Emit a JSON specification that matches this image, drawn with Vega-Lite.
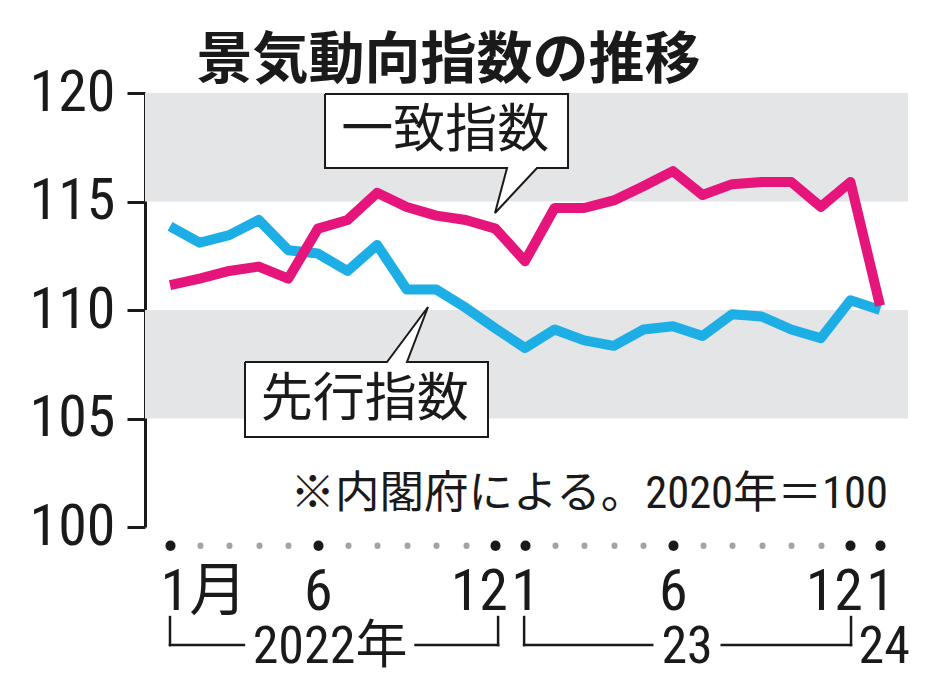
{
  "$schema": "https://vega.github.io/schema/vega-lite/v6.json",
  "width": 763,
  "height": 434,
  "autosize": {"type": "none"},
  "padding": {"left": 145, "top": 93, "right": 26, "bottom": 166},
  "background": "white",
  "config": {"view": {"stroke": null}},
  "title": {
    "text": "景気動向指数の推移",
    "font": "Noto Sans CJK JP",
    "fontSize": 56,
    "fontWeight": "bold",
    "color": "#1a1a1a",
    "anchor": "middle",
    "frame": "group",
    "dx": -78,
    "baseline": "alphabetic",
    "offset": -70
  },
  "datasets": {
    "series": [
      {"i": 0, "month": "2022-01", "name": "一致指数", "value": 111.15},
      {"i": 1, "month": "2022-02", "name": "一致指数", "value": 111.45},
      {"i": 2, "month": "2022-03", "name": "一致指数", "value": 111.8},
      {"i": 3, "month": "2022-04", "name": "一致指数", "value": 112.0},
      {"i": 4, "month": "2022-05", "name": "一致指数", "value": 111.45},
      {"i": 5, "month": "2022-06", "name": "一致指数", "value": 113.75},
      {"i": 6, "month": "2022-07", "name": "一致指数", "value": 114.15},
      {"i": 7, "month": "2022-08", "name": "一致指数", "value": 115.4},
      {"i": 8, "month": "2022-09", "name": "一致指数", "value": 114.75},
      {"i": 9, "month": "2022-10", "name": "一致指数", "value": 114.35},
      {"i": 10, "month": "2022-11", "name": "一致指数", "value": 114.15},
      {"i": 11, "month": "2022-12", "name": "一致指数", "value": 113.75},
      {"i": 12, "month": "2023-01", "name": "一致指数", "value": 112.25},
      {"i": 13, "month": "2023-02", "name": "一致指数", "value": 114.7},
      {"i": 14, "month": "2023-03", "name": "一致指数", "value": 114.7},
      {"i": 15, "month": "2023-04", "name": "一致指数", "value": 115.05},
      {"i": 16, "month": "2023-05", "name": "一致指数", "value": 115.7},
      {"i": 17, "month": "2023-06", "name": "一致指数", "value": 116.4},
      {"i": 18, "month": "2023-07", "name": "一致指数", "value": 115.3},
      {"i": 19, "month": "2023-08", "name": "一致指数", "value": 115.8},
      {"i": 20, "month": "2023-09", "name": "一致指数", "value": 115.9},
      {"i": 21, "month": "2023-10", "name": "一致指数", "value": 115.9},
      {"i": 22, "month": "2023-11", "name": "一致指数", "value": 114.75},
      {"i": 23, "month": "2023-12", "name": "一致指数", "value": 115.9},
      {"i": 24, "month": "2024-01", "name": "一致指数", "value": 110.2},
      {"i": 0, "month": "2022-01", "name": "先行指数", "value": 113.85},
      {"i": 1, "month": "2022-02", "name": "先行指数", "value": 113.1},
      {"i": 2, "month": "2022-03", "name": "先行指数", "value": 113.45},
      {"i": 3, "month": "2022-04", "name": "先行指数", "value": 114.15},
      {"i": 4, "month": "2022-05", "name": "先行指数", "value": 112.75},
      {"i": 5, "month": "2022-06", "name": "先行指数", "value": 112.6},
      {"i": 6, "month": "2022-07", "name": "先行指数", "value": 111.8},
      {"i": 7, "month": "2022-08", "name": "先行指数", "value": 113.0},
      {"i": 8, "month": "2022-09", "name": "先行指数", "value": 110.95},
      {"i": 9, "month": "2022-10", "name": "先行指数", "value": 110.95},
      {"i": 10, "month": "2022-11", "name": "先行指数", "value": 110.1},
      {"i": 11, "month": "2022-12", "name": "先行指数", "value": 109.15},
      {"i": 12, "month": "2023-01", "name": "先行指数", "value": 108.25},
      {"i": 13, "month": "2023-02", "name": "先行指数", "value": 109.1},
      {"i": 14, "month": "2023-03", "name": "先行指数", "value": 108.6},
      {"i": 15, "month": "2023-04", "name": "先行指数", "value": 108.35},
      {"i": 16, "month": "2023-05", "name": "先行指数", "value": 109.1},
      {"i": 17, "month": "2023-06", "name": "先行指数", "value": 109.25},
      {"i": 18, "month": "2023-07", "name": "先行指数", "value": 108.8},
      {"i": 19, "month": "2023-08", "name": "先行指数", "value": 109.8},
      {"i": 20, "month": "2023-09", "name": "先行指数", "value": 109.7},
      {"i": 21, "month": "2023-10", "name": "先行指数", "value": 109.1},
      {"i": 22, "month": "2023-11", "name": "先行指数", "value": 108.7},
      {"i": 23, "month": "2023-12", "name": "先行指数", "value": 110.45},
      {"i": 24, "month": "2024-01", "name": "先行指数", "value": 110.0}
    ],
    "bands": [
      {"lo": 115, "hi": 120},
      {"lo": 105, "hi": 110}
    ],
    "callouts": [
      {"shape": "一致指数", "ord": 0, "i": 5.24, "v": 119.954},
      {"shape": "一致指数", "ord": 1, "i": 13.454, "v": 119.954},
      {"shape": "一致指数", "ord": 2, "i": 13.454, "v": 116.544},
      {"shape": "一致指数", "ord": 3, "i": 12.406, "v": 116.544},
      {"shape": "一致指数", "ord": 4, "i": 10.986, "v": 114.47},
      {"shape": "一致指数", "ord": 5, "i": 11.392, "v": 116.544},
      {"shape": "一致指数", "ord": 6, "i": 5.24, "v": 116.544},
      {"shape": "一致指数", "ord": 7, "i": 5.24, "v": 119.954},
      {"shape": "先行指数", "ord": 0, "i": 2.535, "v": 107.604},
      {"shape": "先行指数", "ord": 1, "i": 7.335, "v": 107.604},
      {"shape": "先行指数", "ord": 2, "i": 8.721, "v": 110.138},
      {"shape": "先行指数", "ord": 3, "i": 8.011, "v": 107.604},
      {"shape": "先行指数", "ord": 4, "i": 10.749, "v": 107.604},
      {"shape": "先行指数", "ord": 5, "i": 10.749, "v": 104.147},
      {"shape": "先行指数", "ord": 6, "i": 2.535, "v": 104.147},
      {"shape": "先行指数", "ord": 7, "i": 2.535, "v": 107.604}
    ],
    "calloutText": [
      {"label": "一致指数", "i": 9.3, "v": 118.25},
      {"label": "先行指数", "i": 6.58, "v": 105.85}
    ],
    "note": [
      {"label": "※内閣府による。2020年＝100", "i": 24.27, "v": 101.47}
    ],
    "brackets": [
      {"i1": 0, "i2": 0, "v1": 95.85, "v2": 94.56},
      {"i1": 0, "i2": 2.5, "v1": 94.56, "v2": 94.56},
      {"i1": 8.3, "i2": 11.09, "v1": 94.56, "v2": 94.56},
      {"i1": 11.09, "i2": 11.09, "v1": 95.85, "v2": 94.56},
      {"i1": 11.97, "i2": 11.97, "v1": 95.85, "v2": 94.56},
      {"i1": 11.97, "i2": 16.3, "v1": 94.56, "v2": 94.56},
      {"i1": 18.65, "i2": 23.02, "v1": 94.56, "v2": 94.56},
      {"i1": 23.02, "i2": 23.02, "v1": 95.85, "v2": 94.56}
    ],
    "years": [
      {"label": "2022年", "i": 5.41, "v": 93.73},
      {"label": "23", "i": 17.48, "v": 93.73},
      {"label": "24", "i": 24.14, "v": 93.73}
    ]
  },
  "layer": [
    {
      "data": {"name": "bands"},
      "mark": {"type": "rect", "color": "#e4e5e7"},
      "encoding": {
        "y": {
          "field": "lo", "type": "quantitative",
          "scale": {"domain": [100, 120], "nice": false, "zero": false},
          "axis": {
            "values": [100, 105, 110, 115, 120],
            "title": null, "grid": false,
            "domain": true, "domainColor": "#1a1a1a", "domainWidth": 3,
            "ticks": true, "tickColor": "#1a1a1a", "tickWidth": 3, "tickSize": 18,
            "labelFont": "Roboto Condensed, Roboto, sans-serif", "labelFontSize": 58,
            "labelColor": "#1a1a1a", "labelPadding": 12,
            "labelFlush": false, "labelBound": false, "labelOverlap": false
          }
        },
        "y2": {"field": "hi"}
      }
    },
    {
      "data": {"name": "series"},
      "transform": [{"filter": "datum.name == '先行指数'"}],
      "mark": {"type": "line", "strokeWidth": 10, "strokeJoin": "round", "color": "#1eaee6"},
      "encoding": {
        "x": {
          "field": "i", "type": "quantitative",
          "scale": {"domain": [-0.845, 24.946], "nice": false, "zero": false},
          "axis": {
            "values": [0, 1, 2, 3, 4, 5, 6, 7, 8, 9, 10, 11, 12, 13, 14, 15, 16, 17, 18, 19, 20, 21, 22, 23, 24],
            "tickCount": 40,
            "title": null, "grid": false, "domain": false, "offset": 18,
            "ticks": true, "tickSize": 0.5, "tickCap": "round",
            "tickWidth": {"condition": {"test": "indexof([0,5,11,12,17,23,24], datum.value) >= 0", "value": 10}, "value": 6},
            "tickColor": {"condition": {"test": "indexof([0,5,11,12,17,23,24], datum.value) >= 0", "value": "#1a1a1a"}, "value": "#a3a3a3"},
            "labelExpr": "datum.value == 0 ? '1月' : (datum.value == 5 || datum.value == 17) ? '6' : (datum.value == 11 || datum.value == 23) ? '12' : (datum.value == 12 || datum.value == 24) ? '1' : ''",
            "labelFont": "Roboto Condensed, Roboto, Noto Sans CJK JP, sans-serif",
            "labelFontSize": 58, "labelColor": "#1a1a1a",
            "labelBaseline": "alphabetic", "labelPadding": 64,
            "labelOverlap": false, "labelFlush": false, "labelBound": false,
            "labelAlign": {"condition": [{"test": "datum.value == 0", "value": "left"}, {"test": "datum.value == 11 || datum.value == 23", "value": "right"}], "value": "center"},
            "labelOffset": {"condition": [{"test": "datum.value == 0", "value": -10}, {"test": "datum.value == 11 || datum.value == 23", "value": 12}], "value": 0}
          }
        },
        "y": {"field": "value", "type": "quantitative"}
      }
    },
    {
      "data": {"name": "series"},
      "transform": [{"filter": "datum.name == '一致指数'"}],
      "mark": {"type": "line", "strokeWidth": 10, "strokeJoin": "round", "color": "#e5157c"},
      "encoding": {
        "x": {"field": "i", "type": "quantitative"},
        "y": {"field": "value", "type": "quantitative"}
      }
    },
    {
      "data": {"name": "callouts"},
      "mark": {"type": "line", "fill": "white", "stroke": "#1a1a1a", "strokeWidth": 2, "strokeJoin": "miter"},
      "encoding": {
        "x": {"field": "i", "type": "quantitative"},
        "y": {"field": "v", "type": "quantitative"},
        "detail": {"field": "shape"},
        "order": {"field": "ord"}
      }
    },
    {
      "data": {"name": "calloutText"},
      "mark": {"type": "text", "font": "Noto Sans CJK JP", "fontSize": 52, "color": "#1a1a1a", "align": "center", "baseline": "middle"},
      "encoding": {
        "x": {"field": "i", "type": "quantitative"},
        "y": {"field": "v", "type": "quantitative"},
        "text": {"field": "label"}
      }
    },
    {
      "data": {"name": "note"},
      "mark": {"type": "text", "font": "Roboto Condensed, Noto Sans CJK JP", "fontSize": 44.5, "color": "#1a1a1a", "align": "right", "baseline": "middle"},
      "encoding": {
        "x": {"field": "i", "type": "quantitative"},
        "y": {"field": "v", "type": "quantitative"},
        "text": {"field": "label"}
      }
    },
    {
      "data": {"name": "brackets"},
      "mark": {"type": "rule", "color": "#1a1a1a", "strokeWidth": 2.5, "strokeCap": "square"},
      "encoding": {
        "x": {"field": "i1", "type": "quantitative"},
        "x2": {"field": "i2"},
        "y": {"field": "v1", "type": "quantitative"},
        "y2": {"field": "v2"}
      }
    },
    {
      "data": {"name": "years"},
      "mark": {"type": "text", "font": "Roboto Condensed, Roboto, Noto Sans CJK JP, sans-serif", "fontSize": 52, "color": "#1a1a1a", "align": "center", "baseline": "alphabetic"},
      "encoding": {
        "x": {"field": "i", "type": "quantitative"},
        "y": {"field": "v", "type": "quantitative"},
        "text": {"field": "label"}
      }
    }
  ]
}
